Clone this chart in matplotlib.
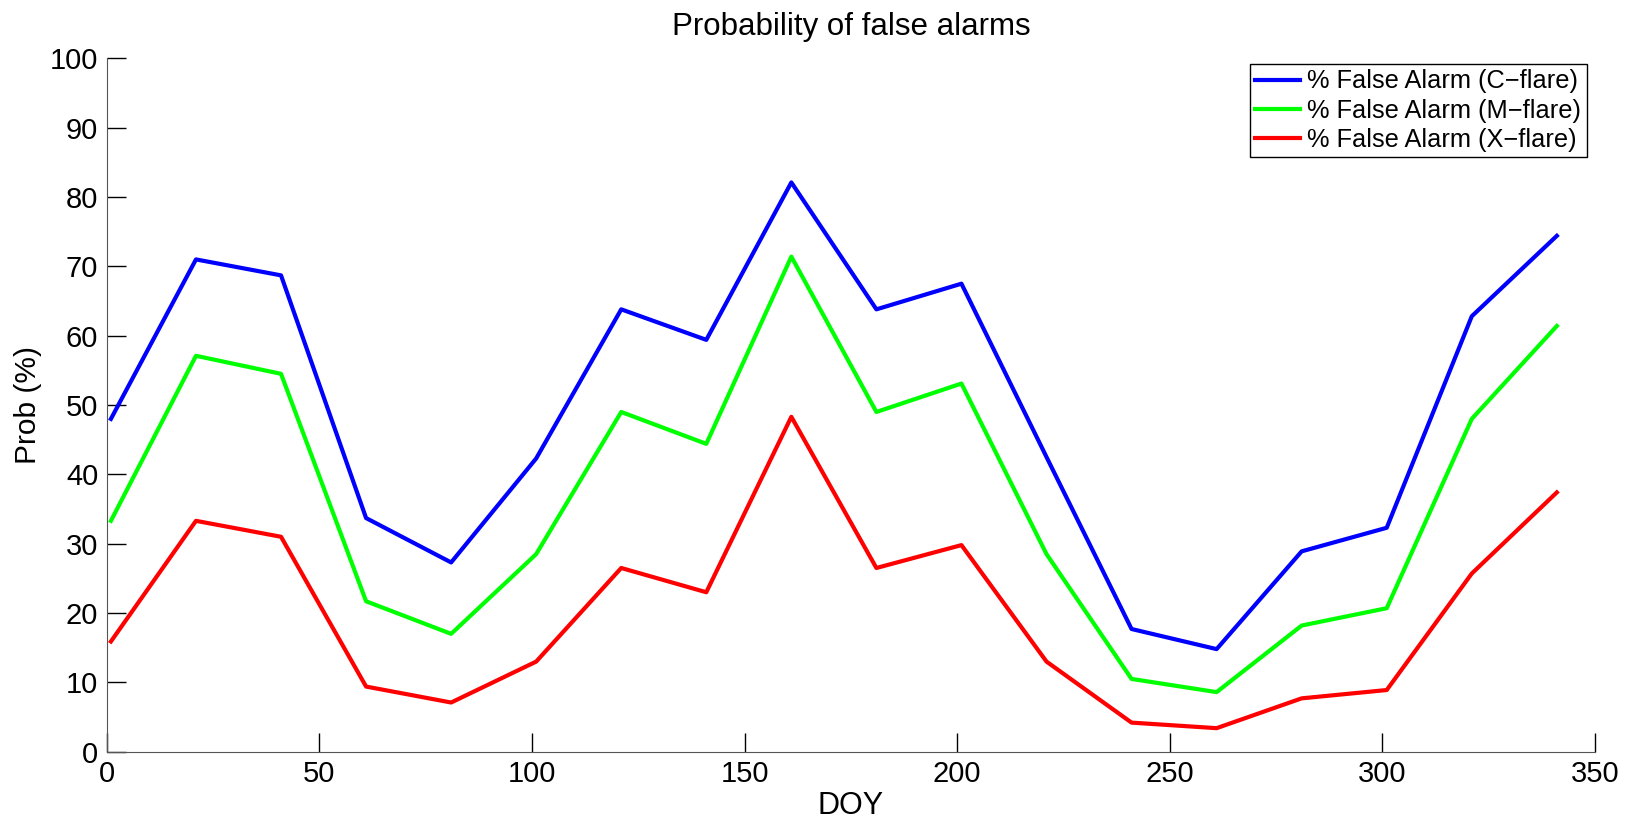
import matplotlib
matplotlib.use("Agg")
import matplotlib.pyplot as plt

plt.rcParams['font.family'] = ['Liberation Sans', 'DejaVu Sans']

# Day of year and false alarm probabilities (%)
doy = [1, 21, 41, 61, 81, 101, 121, 141, 161, 181, 201, 221, 241, 261, 281, 301, 321, 341]
c_flare = [48.0, 71.0, 68.7, 33.7, 27.3, 42.3, 63.8, 59.4, 82.1, 63.8, 67.5, 42.5,
           17.7, 14.8, 28.9, 32.3, 62.8, 74.4]
m_flare = [33.3, 57.1, 54.5, 21.7, 17.0, 28.5, 49.0, 44.4, 71.4, 49.0, 53.1, 28.5,
           10.5, 8.6, 18.2, 20.7, 48.0, 61.4]
x_flare = [15.9, 33.3, 31.0, 9.4, 7.1, 13.0, 26.5, 23.0, 48.3, 26.5, 29.8, 13.0,
           4.2, 3.4, 7.7, 8.9, 25.7, 37.4]

fig = plt.figure(figsize=(16.36, 8.18), dpi=100)
ax = fig.add_axes([0.0652, 0.081, 0.9098, 0.8477])

ax.plot(doy, c_flare, color='#0000ff', lw=3, label='% False Alarm (C\u2212flare)')
ax.plot(doy, m_flare, color='#00ff00', lw=3, label='% False Alarm (M\u2212flare)')
ax.plot(doy, x_flare, color='#ff0000', lw=3, label='% False Alarm (X\u2212flare)')

ax.set_xlim(0, 350)
ax.set_ylim(0, 100)
ax.set_xticks(range(0, 351, 50))
ax.set_yticks(range(0, 101, 10))
ax.tick_params(direction='in', length=14, width=1, labelsize=21, pad=6)
for s in ['top', 'right']:
    ax.spines[s].set_visible(False)
for s in ['left', 'bottom']:
    ax.spines[s].set_color('#555555')

ax.set_xlabel('DOY', fontsize=22, labelpad=2)
ax.set_ylabel('Prob (%)', fontsize=21.5, labelpad=6)
ax.set_title('Probability of false alarms', fontsize=22.5, pad=17)

leg = ax.legend(loc='upper right', bbox_to_anchor=(0.9946, 0.992), fontsize=18.3,
                fancybox=False, edgecolor='black', framealpha=1,
                handlelength=1.75, handletextpad=0.3, borderpad=0.22,
                labelspacing=0.2, borderaxespad=0)
leg.get_frame().set_linewidth(1)

fig.savefig('out.png', dpi=100)
